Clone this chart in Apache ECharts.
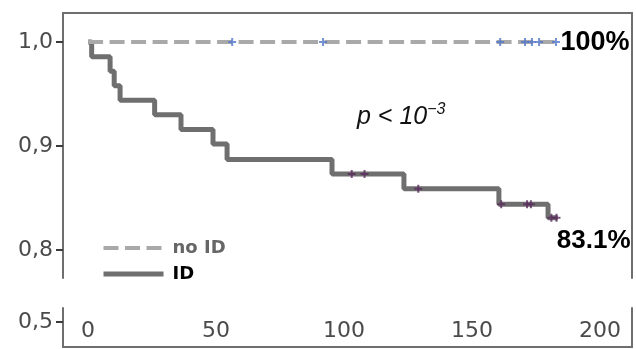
<!DOCTYPE html>
<html>
<head>
<meta charset="utf-8">
<script src="https://cdn.jsdelivr.net/npm/echarts@6/dist/echarts.min.js"></script>
<style>
  html, body { margin: 0; padding: 0; background: #fff; }
  #chart { width: 636px; height: 349px; }
</style>
</head>
<body>
<div id="chart"></div>
<script>
// survival curves (time in days, survival proportion)
const noIdTimes = [0, 183];
const noIdSurv = [1, 1];
const idTimes = [0, 1.4, 8.6, 10.2, 12.5, 26, 36.3, 48.8, 54.3, 95.3, 123.4, 160.5, 179.7, 183.5];
const idSurv = [1, 0.986, 0.972, 0.958, 0.944, 0.930, 0.916, 0.902, 0.887, 0.873, 0.859, 0.844, 0.831, 0.831];

// censored observations
const noIdCensorTimes = [56.3, 91.8, 161, 170.7, 173.4, 176.2, 182.8];
const noIdCensorSurv = [1, 1, 1, 1, 1, 1, 1];
const idCensorTimes = [103, 108, 129, 161.4, 171.5, 173, 181, 183];
const idCensorSurv = [0.873, 0.873, 0.859, 0.844, 0.844, 0.844, 0.831, 0.831];

const upperTicks = [0.8, 0.9, 1.0];
const lowerTicks = [0.5];
const xTicks = [0, 50, 100, 150, 200];

const zip = (a, b) => a.map((v, i) => [v, b[i]]);
const comma = (v) => v.toFixed(1).replace('.', ',');

const chart = echarts.init(document.getElementById('chart'));

const frameLine = () => ({ show: true, onZero: false, lineStyle: { color: '#6e6e6e', width: 2 } });
const yTick = (vals) => ({ show: true, length: 7, customValues: vals, lineStyle: { color: '#3a3a3a', width: 2 } });
const plus = 'path://M3,0H5V3H8V5H5V8H3V5H0V3H3Z';
const axisFont = { fontFamily: 'DejaVu Sans', fontSize: 22, color: '#4a4a4a' };
const supFont = { fontFamily: 'Liberation Sans', fontStyle: 'italic', fontWeight: 'normal', color: '#111' };

const option = {
  animation: false,
  title: {
    text: '{p|p < 10}{s|−3}',
    left: 352,
    top: 97,
    textStyle: {
      rich: {
        p: Object.assign({ fontSize: 25, lineHeight: 30 }, supFont),
        s: Object.assign({ fontSize: 16, lineHeight: 28, verticalAlign: 'top' }, supFont)
      }
    }
  },
  legend: {
    orient: 'vertical',
    left: 96,
    top: 234,
    itemWidth: 60,
    itemHeight: 14,
    itemGap: 8,
    itemStyle: { opacity: 0 },
    textStyle: { fontFamily: 'DejaVu Sans', fontWeight: 'bold', fontSize: 18, padding: [0, 0, 0, 4] },
    data: [
      { name: 'no ID', textStyle: { color: '#666' }, lineStyle: { width: 4, type: [15, 6.5] } },
      { name: 'ID', textStyle: { color: '#000' }, lineStyle: { width: 5 } }
    ]
  },
  grid: [
    { left: 63, top: 13, width: 569, height: 265 },
    { left: 63, top: 308, width: 569, height: 39 }
  ],
  xAxis: [
    { type: 'value', gridIndex: 0, min: -9.8, max: 212.5, show: false, splitLine: { show: false } },
    {
      type: 'value', gridIndex: 0, position: 'top', min: -9.8, max: 212.5,
      axisLine: frameLine(), axisTick: { show: false }, axisLabel: { show: false }, splitLine: { show: false }
    },
    {
      type: 'value', gridIndex: 1, min: -9.8, max: 212.5,
      axisLine: frameLine(), axisTick: { show: false }, splitLine: { show: false },
      axisLabel: Object.assign({ inside: true, margin: 5, customValues: xTicks }, axisFont)
    }
  ],
  yAxis: [
    {
      type: 'value', gridIndex: 0, min: 0.773, max: 1.028,
      axisLine: frameLine(),
      axisTick: yTick(upperTicks),
      axisLabel: Object.assign({ margin: 10, customValues: upperTicks, formatter: comma }, axisFont),
      splitLine: { show: false }
    },
    {
      type: 'value', gridIndex: 0, position: 'right', min: 0.773, max: 1.028,
      axisLine: frameLine(), axisTick: { show: false }, axisLabel: { show: false }, splitLine: { show: false }
    },
    {
      type: 'value', gridIndex: 1, min: 0.4, max: 0.556,
      axisLine: frameLine(),
      axisTick: yTick(lowerTicks),
      axisLabel: Object.assign({ margin: 10, customValues: lowerTicks, formatter: comma }, axisFont),
      splitLine: { show: false }
    },
    {
      type: 'value', gridIndex: 1, position: 'right', min: 0.4, max: 0.556,
      axisLine: frameLine(), axisTick: { show: false }, axisLabel: { show: false }, splitLine: { show: false }
    }
  ],
  series: [
    {
      name: 'ID',
      type: 'line',
      step: 'end',
      symbol: 'none',
      data: zip(idTimes, idSurv),
      lineStyle: { color: '#6f6f6f', width: 5 },
      itemStyle: { color: '#6f6f6f' },
      endLabel: {
        show: true,
        formatter: '83.1%',
        offset: [-9, 23],
        fontFamily: 'Liberation Sans',
        fontWeight: 'bold',
        fontSize: 26,
        color: '#000'
      }
    },
    {
      name: 'no ID',
      type: 'line',
      symbol: 'none',
      data: zip(noIdTimes, noIdSurv),
      lineStyle: { color: '#a9a9a9', width: 4, type: [15, 6.5] },
      itemStyle: { color: '#a9a9a9' },
      endLabel: {
        show: true,
        formatter: '100%',
        distance: 4,
        fontFamily: 'Liberation Sans',
        fontWeight: 'bold',
        fontSize: 27,
        color: '#000'
      }
    },
    {
      name: 'no ID censored',
      type: 'scatter',
      symbol: plus,
      symbolSize: 8,
      data: zip(noIdCensorTimes, noIdCensorSurv),
      itemStyle: { color: '#5276cc' },
      z: 3
    },
    {
      name: 'ID censored',
      type: 'scatter',
      symbol: plus,
      symbolSize: 8,
      data: zip(idCensorTimes, idCensorSurv),
      itemStyle: { color: '#5a2a5e' },
      z: 3
    }
  ]
};

chart.setOption(option);
</script>
</body>
</html>
